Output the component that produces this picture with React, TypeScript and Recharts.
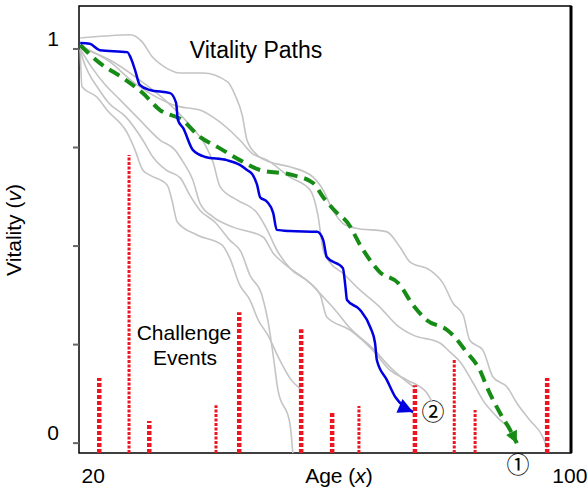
import React from "react";
import { ComposedChart, Line, XAxis, YAxis, ReferenceArea, ReferenceLine } from "recharts";

type Pt = [number, number];

// axes
const ageDomain = [17.6, 100.2];
const vitalityDomain = [-0.025, 1.109];
const ageTicks = [20, 100];
const vitalityTicks = [0, 0.25, 0.5, 0.75, 1];
const vitalityLabels = [0, 1];

// challenge events: age and height of each red bar
const eventAges = [21.0, 26.0, 29.4, 40.6, 44.5, 54.9, 60.1, 64.6, 74.0, 80.6, 84.1, 96.2];
const eventHeights = [0.165, 0.731, 0.056, 0.096, 0.332, 0.289, 0.081, 0.094, 0.147, 0.211, 0.084, 0.165];
// drawing weight per bar (thick or thin dots)
const eventThick = [true, false, true, false, true, true, true, false, true, false, false, true];

// grey vitality paths (age, vitality)
const gray1: Pt[] = [
  [17.8, 1.028], [22.0, 1.033], [26.2, 1.036], [28.2, 1.018], [29.9, 0.98], [32.0, 0.954],
  [34.6, 0.939], [38.4, 0.939], [42.6, 0.916], [43.8, 0.883], [45.0, 0.832], [45.8, 0.769],
  [47.5, 0.731], [49.7, 0.713], [53.0, 0.701], [56.9, 0.675], [58.6, 0.642], [60.2, 0.591],
  [62.3, 0.553], [63.9, 0.546], [69.3, 0.536], [71.5, 0.497], [73.2, 0.459], [76.5, 0.439],
  [78.7, 0.406], [80.4, 0.355], [82.1, 0.325], [83.2, 0.261], [85.4, 0.236], [87.1, 0.168],
  [89.5, 0.142], [91.1, 0.102], [93.3, 0.058], [95.5, 0.015], [96.2, -0.013],
];
const gray2: Pt[] = [
  [17.8, 1.008], [22.8, 0.967], [26.7, 0.916], [30.0, 0.883], [34.1, 0.855], [37.9, 0.845],
  [40.1, 0.827], [44.6, 0.769], [46.6, 0.736], [49.2, 0.718], [53.0, 0.675], [56.4, 0.642],
  [57.7, 0.579], [58.6, 0.49], [59.7, 0.459], [61.9, 0.431], [64.8, 0.388], [68.1, 0.345],
  [71.0, 0.299], [73.7, 0.274], [78.2, 0.254], [79.9, 0.231], [81.6, 0.206], [83.8, 0.152],
  [85.4, 0.109], [87.8, 0.066], [90.0, 0.033], [91.3, 0.0],
];
const gray3: Pt[] = [
  [17.8, 0.997], [18.1, 0.904], [20.6, 0.878], [22.3, 0.845], [25.7, 0.787], [27.0, 0.744],
  [28.3, 0.693], [29.5, 0.68], [32.4, 0.655], [33.2, 0.617], [34.1, 0.561], [37.4, 0.528],
  [41.6, 0.503], [42.9, 0.47], [44.6, 0.401], [46.3, 0.363], [47.7, 0.312], [49.3, 0.274],
  [51.3, 0.211], [53.0, 0.165], [55.0, 0.135],
];
const gray4: Pt[] = [
  [17.8, 0.997], [18.3, 0.972], [21.0, 0.896], [22.6, 0.863], [25.5, 0.827], [28.3, 0.769],
  [30.0, 0.726], [32.2, 0.693], [34.6, 0.673], [36.2, 0.629], [37.9, 0.591], [40.4, 0.561],
  [42.9, 0.515], [44.8, 0.485], [46.3, 0.426], [48.3, 0.376], [49.3, 0.312], [50.2, 0.223],
  [51.0, 0.135], [53.0, 0.051], [53.5, -0.025],
];
const gray5: Pt[] = [
  [17.8, 1.003], [22.8, 0.972], [27.8, 0.921], [32.0, 0.871], [36.2, 0.807], [38.8, 0.756],
  [40.1, 0.713], [41.3, 0.65], [44.1, 0.617], [47.5, 0.584], [49.2, 0.541], [50.8, 0.49],
  [53.0, 0.444], [56.4, 0.406], [58.1, 0.376], [59.2, 0.32], [63.1, 0.287], [66.9, 0.236],
  [69.8, 0.185], [72.7, 0.16], [76.0, 0.127], [76.9, 0.104],
];
const gray6: Pt[] = [
  [17.8, 1.0], [19.8, 0.952], [22.0, 0.909], [24.5, 0.871], [27.8, 0.82], [31.2, 0.769],
  [33.7, 0.744], [35.1, 0.713], [36.7, 0.668], [37.9, 0.609], [40.1, 0.574], [43.5, 0.548],
  [48.5, 0.523], [50.2, 0.482], [51.9, 0.457], [56.4, 0.406], [58.6, 0.371], [60.6, 0.338],
  [63.1, 0.292], [66.9, 0.241], [69.8, 0.193], [74.0, 0.14],
];

// highlighted paths
const bluePath: Pt[] = [
  [17.8, 1.015], [19.4, 1.013], [21.1, 0.997], [25.7, 0.992], [26.3, 0.977], [27.0, 0.947],
  [27.8, 0.909], [29.5, 0.896], [32.9, 0.888], [33.9, 0.863], [34.2, 0.82], [35.1, 0.799],
  [36.7, 0.744], [38.8, 0.726], [42.4, 0.718], [44.6, 0.706], [45.8, 0.693], [46.8, 0.68],
  [47.5, 0.655], [48.0, 0.624], [49.2, 0.612], [50.2, 0.584], [50.8, 0.541], [53.0, 0.538],
  [57.6, 0.536], [58.6, 0.515], [59.2, 0.472], [61.9, 0.444], [62.3, 0.401], [62.6, 0.363],
  [64.8, 0.338], [66.5, 0.294], [67.3, 0.254], [67.6, 0.211], [69.3, 0.16], [70.7, 0.117],
  [72.3, 0.091], [73.7, 0.079],
];
const greenPath: Pt[] = [
  [17.8, 1.01], [21.1, 0.964], [25.0, 0.926], [28.3, 0.888], [31.2, 0.845], [34.9, 0.82],
  [37.9, 0.777], [40.9, 0.751], [44.6, 0.718], [48.0, 0.693], [53.5, 0.68], [56.9, 0.66],
  [58.6, 0.624], [60.9, 0.584], [62.6, 0.561], [65.1, 0.495], [68.1, 0.434], [71.2, 0.406],
  [73.7, 0.35], [76.0, 0.312], [79.4, 0.287], [80.7, 0.269], [82.4, 0.236], [84.9, 0.185],
  [86.3, 0.135], [88.3, 0.076], [90.0, 0.033], [91.1, 0.0],
];

const grayPaths = [gray1, gray2, gray3, gray4, gray5, gray6];

const rows = (p: Pt[]) => p.map(([x, v]) => ({ x, v }));

const FONT = "'Liberation Sans', Arial, sans-serif";
const CIRCLED = "'Noto Sans CJK JP', 'DejaVu Sans', sans-serif";

const YTick = (props: any) => {
  const { x, y, payload } = props;
  if (!vitalityLabels.includes(payload.value)) return <g />;
  return (
    <text x={x - 12} y={y - 3} textAnchor="end" fontSize={21} fontFamily={FONT} fill="#000">
      {payload.value}
    </text>
  );
};

const XTick = (props: any) => {
  const { x, payload } = props;
  return (
    <text x={x} y={483} textAnchor="middle" fontSize={21} fontFamily={FONT} fill="#000">
      {payload.value}
    </text>
  );
};

export default function App() {
  return (
    <div style={{ position: "absolute", left: 0, top: 0, background: "#fff" }}>
      <ComposedChart width={588} height={498} margin={{ top: 6, right: 17, bottom: 0, left: 49 }}>
        <defs>
          <marker id="arrowBlue" viewBox="0 0 10 10" refX="10" refY="5" markerUnits="userSpaceOnUse"
            markerWidth="16" markerHeight="15" orient="auto">
            <path d="M0,0 L10,5 L0,10 z" fill="#0000e0" />
          </marker>
          <marker id="arrowGreen" viewBox="0 0 10 10" refX="10" refY="5" markerUnits="userSpaceOnUse"
            markerWidth="13" markerHeight="12" orient="auto">
            <path d="M0,0 L10,5 L0,10 z" fill="#168c16" />
          </marker>
        </defs>
        <XAxis type="number" dataKey="x" domain={ageDomain} ticks={ageTicks} allowDataOverflow
          tickLine={false} axisLine={false} height={45} tick={<XTick />} />
        <YAxis type="number" dataKey="v" domain={vitalityDomain} ticks={vitalityTicks} allowDataOverflow
          width={30} axisLine={false} tickSize={6} tickLine={{ stroke: "#666", strokeWidth: 2 }} tick={<YTick />} />
        <ReferenceArea x1={ageDomain[0]} x2={ageDomain[1]} y1={vitalityDomain[0]} y2={vitalityDomain[1]}
          fill="none" stroke="#000" strokeWidth={1.5} ifOverflow="visible" />
        <ReferenceLine x={ageDomain[1]} stroke="#000" strokeWidth={3} ifOverflow="visible" />
        {grayPaths.map((p, i) => (
          <Line key={"g" + i} data={rows(p)} dataKey="v" type="monotone" stroke="#c4c4c4"
            strokeWidth={1.6} dot={false} activeDot={false} isAnimationActive={false} />
        ))}
        <Line data={rows(greenPath)} dataKey="v" type="monotone" stroke="#168c16" strokeWidth={4}
          strokeDasharray="12 7" dot={false} activeDot={false} isAnimationActive={false}
          markerEnd="url(#arrowGreen)" />
        <Line data={rows(bluePath)} dataKey="v" type="monotone" stroke="#0000e0" strokeWidth={2.5}
          dot={false} activeDot={false} isAnimationActive={false} markerEnd="url(#arrowBlue)" />
        {eventAges.map((a, i) => (
          <Line key={"e" + i} data={[{ x: a, v: vitalityDomain[0] }, { x: a, v: eventHeights[i] }]}
            dataKey="v" type="linear" stroke="#ec1520"
            strokeWidth={eventThick[i] ? 4.5 : 3} strokeDasharray={eventThick[i] ? "4 2" : "3 1.5"}
            dot={false} activeDot={false} isAnimationActive={false} />
        ))}
        <text x={256} y={58} textAnchor="middle" fontSize={23} fontFamily={FONT} fill="#000">Vitality Paths</text>
        <text x={184} y={340} textAnchor="middle" fontSize={21} fontFamily={FONT} fill="#000">Challenge</text>
        <text x={185} y={365} textAnchor="middle" fontSize={21} fontFamily={FONT} fill="#000">Events</text>
        <text x={339} y={483} textAnchor="middle" fontSize={21} fontFamily={FONT} fill="#000">
          Age (<tspan fontStyle="italic">x</tspan>)
        </text>
        <text x={21} y={230} textAnchor="middle" fontSize={21} fontFamily={FONT} fill="#000"
          transform="rotate(-90 21 230)">
          Vitality (<tspan fontStyle="italic">v</tspan>)
        </text>
        <text x={433} y={420} textAnchor="middle" fontSize={23} fontFamily={CIRCLED} fill="#000">②</text>
        <text x={518} y={473} textAnchor="middle" fontSize={23} fontFamily={CIRCLED} fill="#000">①</text>
      </ComposedChart>
    </div>
  );
}
